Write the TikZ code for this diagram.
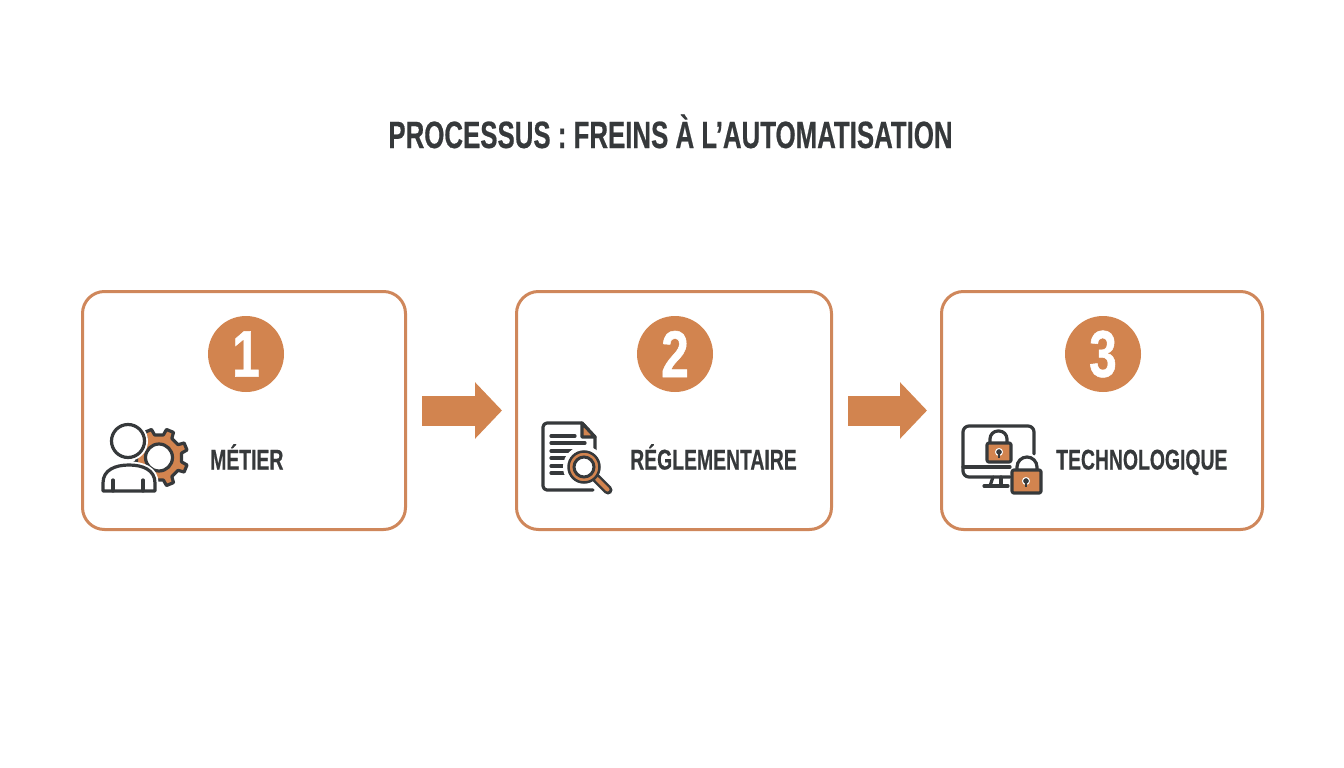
\documentclass[tikz,border=0pt]{standalone}
\usepackage{fontspec}
\usepackage{xcolor}
\newfontfamily\capsfont[FakeStretch=0.68,FakeBold=0.5]{Liberation Sans}
\newfontfamily\digitfont[FakeStretch=0.75,FakeBold=0.8]{Liberation Sans}
\definecolor{rust}{HTML}{D2844F}
\definecolor{rim}{HTML}{CF875B}
\definecolor{ink}{HTML}{36393B}
\usetikzlibrary{arrows.meta,positioning}

\tikzset{
  frame/.style={draw=rim,line width=3pt,rounded corners=22pt,minimum height=238pt,outer sep=1.5pt},
  badge/.style={circle,fill=rust,minimum size=76pt,inner sep=0pt,text=white,font=\digitfont\bfseries\fontsize{66}{66}\selectfont},
  label/.style={text=ink,inner sep=0pt,anchor=base west,font=\capsfont\bfseries\fontsize{28.5}{28.5}\selectfont},
  link/.style={draw=rust,line width=30pt,-{Triangle[length=27pt,width=55pt]}},
  stroke/.style={draw=ink,line width=3.2pt,line join=round,line cap=round},
  halo/.style={draw=white,line width=7pt},
}

\begin{document}
\begin{tikzpicture}[x=1pt,y=-1pt]
    \useasboundingbox (0,0) rectangle (1344,768);

    \node[text=ink,inner sep=0pt,anchor=base,font=\capsfont\bfseries\fontsize{38}{38}\selectfont] (title) at (670.5,148) {PROCESSUS : FREINS À L’AUTOMATISATION};

    \node[frame,minimum width=323pt] (metier) at (244,410.5) {};
    \node[frame,minimum width=315pt,right=108pt of metier] (regl) {};
    \node[frame,minimum width=321pt,right=107pt of regl] (techno) {};

    \node[badge] (one) at (246,354) {1};
    \node[badge] (two) at (675,354) {2};
    \node[badge] (three) at (1103,354) {3};

    \node[label] (metierlbl) at (210,469.5) {MÉTIER};
    \node[label] (regllbl) at (630,469.5) {RÉGLEMENTAIRE};
    \node[label] (technolbl) at (1056,469.5) {TECHNOLOGIQUE};

    \draw[link,shorten <=15pt,shorten >=13pt] (metier) -- (regl);
    \draw[link,shorten <=15pt,shorten >=13pt] (regl) -- (techno);

    % person and gear
    \begin{scope}[shift={(159,457.5)}]
      \draw[stroke,fill=rust] (-11:23)
        \foreach \a in {45,90,...,360} { -- (\a-34:23) -- (\a-30:29) -- (\a-15:29) -- (\a-11:23) } -- cycle;
      \draw[stroke,fill=white] (0,0) circle (13.5);
    \end{scope}
    \draw[halo,fill=white] (128,441) circle (16.5);
    \draw[stroke,fill=white] (128,441) circle (16.5);
    \draw[halo,fill=white] (103,491) -- (103,483) .. controls (103,470) and (115,465) .. (129,465) .. controls (143,465) and (155,470) .. (155,483) -- (155,491) -- cycle;
    \draw[stroke,fill=white] (103,491) -- (103,483) .. controls (103,470) and (115,465) .. (129,465) .. controls (143,465) and (155,470) .. (155,483) -- (155,491) -- cycle;
    \draw[stroke] (113,480) -- (113,491);
    \draw[stroke] (143,480) -- (143,491);

    % page and magnifier
    \draw[stroke,rounded corners=4pt] (593,490) -- (543,490) -- (543,423) -- (582,423);
    \draw[stroke] (582,423) -- (595,437) -- (595,452);
    \draw[stroke,fill=rust] (582,423) -- (582,437) -- (595,437) -- cycle;
    \foreach \yline/\xend in {436/575,443/585,451/572,458/567,466/565,473/565}
      \draw[stroke] (551,\yline) -- (\xend,\yline);
    \draw[white,line width=6pt] (584,467) circle (18);
    \draw[ink,line width=9pt,line cap=round] (596,478) -- (608,490);
    \draw[rust,line width=4pt,line cap=round] (597,479) -- (607.5,489.5);
    \draw[ink,fill=rust,line width=2.5pt] (584,467) circle (15.5);
    \draw[ink,fill=white,line width=3pt] (584,467) circle (10);

    % screen and padlocks
    \draw[stroke,rounded corners=6pt] (1034,454) -- (1034,426) -- (963,426) -- (963,477) -- (1010,477);
    \draw[stroke] (963,467) -- (1010,467);
    \draw[stroke] (993,477) -- (990,486);
    \draw[stroke] (1001,477) -- (1001,486);
    \draw[stroke] (984,486) -- (1008,486);
    \draw[stroke,rounded corners=8pt] (990,444) -- (990,431) -- (1007,431) -- (1007,444);
    \draw[stroke,fill=rust,rounded corners=2pt] (987,443) rectangle (1011,462);
    \draw[white,line width=3pt,fill=white] (1012,471) rectangle (1041,494);
    \draw[halo,rounded corners=10pt] (1017,472) -- (1017,457) -- (1037,457) -- (1037,472);
    \draw[stroke,rounded corners=10pt] (1017,472) -- (1017,457) -- (1037,457) -- (1037,472);
    \draw[stroke,fill=rust,rounded corners=2pt] (1012,470) rectangle (1041,493);
    \foreach \xlock/\ylock in {999/452,1026/481} {
      \draw[white,line width=1pt,fill=ink] (\xlock,\ylock) circle (3.5);
      \draw[ink,line width=2.5pt] (\xlock,\ylock) -- (\xlock,\ylock+6);
    }
  \end{tikzpicture}
\end{document}
